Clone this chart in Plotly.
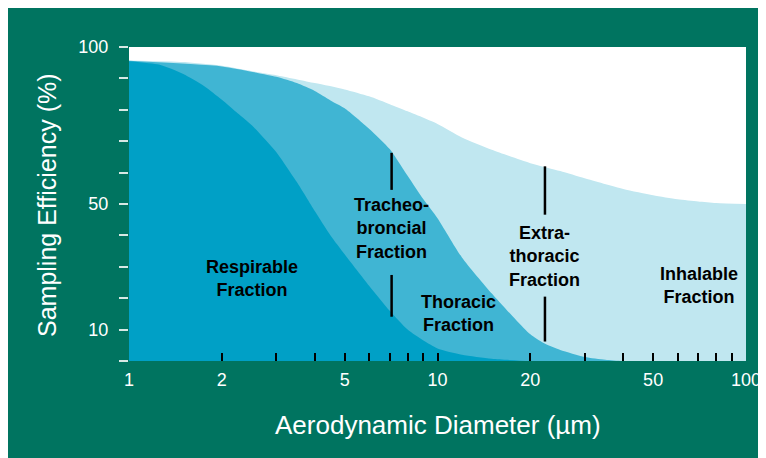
import math
import plotly.graph_objects as go

# ---- data ----
inhal_d = [1, 1.5, 2, 2.5, 3, 4, 5, 6, 7, 8, 10, 12, 15, 20, 25, 30, 40, 50, 60, 70, 80, 100]
inhal_v = [95.7, 95.2, 94.0, 92.3, 91.0, 88.5, 86.5, 84.3, 81.8, 79.5, 75.5, 71.2, 67.3, 63.0, 60.5, 58.2, 54.8, 52.8, 51.5, 50.8, 50.3, 50.0]

thor_d = [1, 2, 3, 3.5, 4, 4.5, 5, 6, 7, 8, 9, 10, 12, 15, 18, 20, 22, 25, 30, 35, 40, 100]
thor_v = [95.6, 93.8, 90.5, 88.5, 86.0, 83.0, 80.5, 74.0, 67.5, 59.0, 51.5, 45.5, 33.0, 21.5, 13.0, 8.5, 5.8, 3.5, 1.3, 0.4, 0.0, 0.0]

resp_d = [1, 1.25, 1.5, 1.75, 2, 2.25, 2.5, 3, 3.5, 4, 4.5, 5, 6, 7, 8, 9, 10, 12, 15, 20, 100]
resp_v = [95.5, 94.4, 91.4, 87.6, 83.2, 78.9, 75.1, 66.6, 57.0, 47.8, 40.0, 34.0, 24.0, 16.0, 10.0, 6.5, 4.0, 2.0, 0.7, 0.0, 0.0]

x_tickvals = [1, 2, 3, 4, 5, 6, 7, 8, 9, 10, 20, 30, 40, 50, 60, 70, 80, 90, 100]
x_ticktext = ["1", "2", "", "", "5", "", "", "", "", "10", "20", "", "", "50", "", "", "", "", "100"]
y_tickvals = [0, 10, 20, 30, 40, 50, 60, 70, 80, 90, 100]
y_ticktext = ["", "10", "", "", "", "50", "", "", "", "", "100"]

# region labels: (text, diameter, efficiency)
labels = [
    ("Respirable<br>Fraction", 2.5, 26.2),
    ("Tracheo-<br>broncial<br>Fraction", 7.1, 42.2),
    ("Thoracic<br>Fraction", 11.7, 15.0),
    ("Extra-<br>thoracic<br>Fraction", 22.3, 33.3),
    ("Inhalable<br>Fraction", 70.4, 24.2),
]
# marker bars: (diameter, y_start, y_end)
bars = [
    (7.1, 54.5, 66.3), (7.1, 14.1, 27.4),
    (22.3, 46.6, 62.0), (22.3, 6.2, 20.5),
]

GREEN = "#007460"
C_LIGHT = "#c0e7f0"
C_MED = "#40b5d3"
C_DARK = "#00a0c6"
LABEL_FONT = "Liberation Sans, Arial, sans-serif"
AXIS_FONT = "Liberation Sans, Arial, sans-serif"

fig = go.Figure()
for d, v, c in [(inhal_d, inhal_v, C_LIGHT), (thor_d, thor_v, C_MED), (resp_d, resp_v, C_DARK)]:
    fig.add_trace(go.Scatter(x=d, y=v, mode="lines", fill="tozeroy", fillcolor=c,
                             line=dict(width=0, color=c, shape="spline", smoothing=0.6),
                             hoverinfo="skip", showlegend=False))
for xb, y0, y1 in bars:
    fig.add_trace(go.Scatter(x=[xb, xb], y=[y0, y1], mode="lines",
                             line=dict(color="black", width=2.5),
                             hoverinfo="skip", showlegend=False))

for txt, xd, yv in labels:
    fig.add_annotation(x=math.log10(xd), y=yv, xref="x", yref="y", text="<b>" + txt + "</b>",
                       showarrow=False, align="center", xanchor="center", yanchor="middle",
                       font=dict(family=LABEL_FONT, size=18, color="black"))

# page body has an 8px margin, so figure coords = screen coords - 8
OFF = 8
W, H = 766, 458
L, T = 129 - OFF, 47 - OFF
R = W - (746 - OFF)
B = H - (361 - OFF)
pw, ph = W - L - R, H - T - B

def px(x):
    return (x - OFF - L) / pw

def py(y):
    return (H - B - (y - OFF)) / ph

# axis titles
fig.add_annotation(xref="paper", yref="paper", x=px(47), y=py(205), text="Sampling Efficiency (%)",
                   textangle=-90, showarrow=False, xanchor="center", yanchor="middle",
                   font=dict(family=AXIS_FONT, size=25, color="white"))
fig.add_annotation(xref="paper", yref="paper", x=px(438), y=py(425), text="Aerodynamic Diameter (µm)",
                   showarrow=False, xanchor="center", yanchor="middle",
                   font=dict(family=AXIS_FONT, size=26, color="white"))

fig.update_layout(
    width=W, height=H,
    margin=dict(l=L, r=R, t=T, b=B),
    paper_bgcolor=GREEN, plot_bgcolor="white",
    showlegend=False,
    xaxis=dict(type="log", range=[0, 2], tickvals=x_tickvals, ticktext=x_ticktext,
               ticks="inside", ticklen=8, tickwidth=1.5, tickcolor="black",
               showgrid=False, zeroline=False, showline=False, ticklabelstandoff=6,
               tickfont=dict(family=AXIS_FONT, size=18, color="white")),
    yaxis=dict(range=[0, 100], tickvals=y_tickvals, ticktext=y_ticktext,
               ticks="outside", ticklen=9, tickwidth=1.5, tickcolor="#d8e8e4",
               showgrid=False, zeroline=False, showline=False, ticklabelstandoff=7,
               tickfont=dict(family=AXIS_FONT, size=18, color="white")),
)

fig.write_html("out.html")
